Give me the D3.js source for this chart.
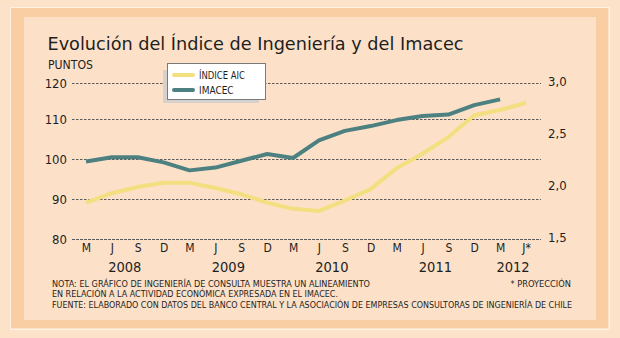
<!DOCTYPE html>
<html>
<head>
<meta charset="utf-8">
<script src="https://cdn.jsdelivr.net/npm/d3@7"></script>
<style>
  html, body { margin: 0; padding: 0; background: #fde2ca; }
  svg { display: block; }
  text { font-family: "DejaVu Sans Condensed", "DejaVu Sans", sans-serif; font-stretch: condensed; fill: #1e1e1e; }
</style>
</head>
<body>
<svg id="chart" width="620" height="338"></svg>
<script>
// Quarterly periods (March, June, September, December) 2008 – June 2012
const quarters = ["2008-03","2008-06","2008-09","2008-12",
                  "2009-03","2009-06","2009-09","2009-12",
                  "2010-03","2010-06","2010-09","2010-12",
                  "2011-03","2011-06","2011-09","2011-12",
                  "2012-03","2012-06"];
const quarterLabels = ["M","J","S","D","M","J","S","D","M","J","S","D","M","J","S","D","M","J*"];
const years = ["2008","2009","2010","2011","2012"];

// IMACEC, points (left axis)
const imacec = [99.4, 100.5, 100.5, 99.2, 97.2, 97.9, 99.6, 101.3, 100.3,
                104.7, 107.1, 108.3, 109.8, 110.9, 111.3, 113.9, 115.5, null];
// Índice AIC (right axis)
const aic = [1.85, 1.94, 2.00, 2.04, 2.04, 1.99, 1.93, 1.85, 1.79,
             1.77, 1.87, 1.98, 2.18, 2.32, 2.48, 2.69, 2.74, 2.81];

const leftTicks = [80, 90, 100, 110, 120];
const rightTicks = [1.5, 2.0, 2.5, 3.0];

const title = "Evolución del Índice de Ingeniería y del Imacec";
const unitLabel = "PUNTOS";
const seriesNames = ["ÍNDICE AIC", "IMACEC"];
const noteLines = [
  "NOTA: EL GRÁFICO DE INGENIERÍA DE CONSULTA MUESTRA UN ALINEAMIENTO",
  "EN RELACIÓN A LA ACTIVIDAD ECONÓMICA EXPRESADA EN EL IMACEC.",
  "FUENTE: ELABORADO CON DATOS DEL BANCO CENTRAL Y LA ASOCIACIÓN DE EMPRESAS CONSULTORAS DE INGENIERÍA DE CHILE"
];
const projectionNote = "* PROYECCIÓN";

const colors = { aic: "#f3de80", imacec: "#4d8181", grid: "#5a5a5a" };

const svg = d3.select("#chart");

// Frame: light outline, wide peach band, inner panel
svg.append("rect").attr("x", 0).attr("y", 0).attr("width", 620).attr("height", 338).attr("fill", "#fde2ca");
svg.append("rect").attr("x", 10.5).attr("y", 7.5).attr("width", 599).attr("height", 322)
  .attr("fill", "none").attr("stroke", "#fff1e4").attr("stroke-width", 1);
svg.append("rect").attr("x", 11).attr("y", 8).attr("width", 597).attr("height", 320).attr("fill", "#f9cea3");
svg.append("rect").attr("x", 24).attr("y", 17).attr("width", 572).attr("height", 303).attr("fill", "#fce1c8");

// Scales
const x = d3.scalePoint().domain(quarters).range([86, 526]);
const yLeft = d3.scaleLinear().domain([80, 110, 120]).range([239, 119.3, 83]);
const yRight = d3.scaleLinear().domain([1.5, 3.0]).range([239, 83]);
const gridX0 = 72, gridX1 = 541;

// Title and unit
svg.append("text").attr("x", 47.5).attr("y", 49.5)
  .style("font-family", "'DejaVu Sans', sans-serif").style("font-stretch", "normal")
  .attr("font-size", 18.5).attr("textLength", 416).attr("lengthAdjust", "spacingAndGlyphs")
  .text(title);
svg.append("text").attr("x", 48).attr("y", 68.5).attr("font-size", 11.5)
  .attr("textLength", 45).attr("lengthAdjust", "spacingAndGlyphs").text(unitLabel);

// Horizontal gridlines with left labels
const gridG = svg.append("g");
gridG.selectAll("line").data(leftTicks).join("line")
  .attr("x1", gridX0).attr("x2", gridX1)
  .attr("y1", d => Math.round(yLeft(d)) + 0.5).attr("y2", d => Math.round(yLeft(d)) + 0.5)
  .attr("stroke", colors.grid).attr("stroke-width", 1)
  .attr("stroke-dasharray", d => d === 80 ? "3,1" : "2.5,1.5");

const leftAxis = d3.axisLeft(yLeft).tickValues(leftTicks).tickSize(0).tickPadding(0).tickFormat(d3.format("d"));
const la = svg.append("g").attr("transform", "translate(67,0)").call(leftAxis);
la.select(".domain").remove();
la.selectAll("text").attr("font-size", 13).attr("fill", "#1e1e1e")
  .style("font-family", "'DejaVu Sans Condensed', 'DejaVu Sans', sans-serif");

const rightAxis = d3.axisRight(yRight).tickValues(rightTicks).tickSize(0).tickPadding(0)
  .tickFormat(d => d3.format(".1f")(d).replace(".", ","));
const ra = svg.append("g").attr("transform", "translate(548,-1.5)").call(rightAxis);
ra.select(".domain").remove();
ra.selectAll("text").attr("font-size", 13).attr("fill", "#1e1e1e")
  .style("font-family", "'DejaVu Sans Condensed', 'DejaVu Sans', sans-serif");

// Quarter labels
const bottomAxis = d3.axisBottom(x).tickSize(0).tickPadding(0).tickFormat((d, i) => quarterLabels[i]);
const ba = svg.append("g").attr("transform", "translate(0,243)").call(bottomAxis);
ba.select(".domain").remove();
ba.selectAll("text").attr("font-size", 12).attr("fill", "#1e1e1e")
  .style("font-family", "'DejaVu Sans Condensed', 'DejaVu Sans', sans-serif");

// Year labels centred under each year's quarters
svg.append("g").selectAll("text").data(years).join("text")
  .attr("x", yr => d3.mean(quarters.filter(q => q.startsWith(yr)), q => x(q)))
  .attr("y", 272).attr("text-anchor", "middle").attr("font-size", 14.5)
  .text(d => d);

// Series lines
const lineLeft = d3.line().defined(d => d.v != null).x(d => x(d.q)).y(d => yLeft(d.v));
const lineRight = d3.line().defined(d => d.v != null).x(d => x(d.q)).y(d => yRight(d.v));

svg.append("path")
  .datum(quarters.map((q, i) => ({ q, v: aic[i] })))
  .attr("d", lineRight).attr("fill", "none").attr("stroke", colors.aic)
  .attr("stroke-width", 4).attr("stroke-linejoin", "round");

svg.append("path")
  .datum(quarters.map((q, i) => ({ q, v: imacec[i] })))
  .attr("d", lineLeft).attr("fill", "none").attr("stroke", colors.imacec)
  .attr("stroke-width", 4).attr("stroke-linejoin", "round");

// Legend
const lg = svg.append("g");
lg.append("rect").attr("x", 163).attr("y", 70).attr("width", 96).attr("height", 33).attr("fill", "#d6d1cc");
lg.append("rect").attr("x", 167.5).attr("y", 63.5).attr("width", 98).attr("height", 36)
  .attr("fill", "#ffffff").attr("stroke", "#7a7a7a").attr("stroke-width", 1);
const legendItems = [
  { name: seriesNames[0], color: colors.aic, y: 75 },
  { name: seriesNames[1], color: colors.imacec, y: 90 }
];
legendItems.forEach(it => {
  lg.append("line").attr("x1", 174).attr("x2", 193).attr("y1", it.y).attr("y2", it.y)
    .attr("stroke", it.color).attr("stroke-width", 4).attr("stroke-linecap", "round");
  lg.append("text").attr("x", 199).attr("y", it.y + 3.8).attr("font-size", 10).text(it.name);
});
lg.selectAll("text").filter((d, i) => i === 0).attr("textLength", 46).attr("lengthAdjust", "spacingAndGlyphs");

// Notes
const noteY = [287, 297, 308];
const noteW = [318, 286, 520];
noteLines.forEach((t, i) => {
  svg.append("text").attr("x", 52).attr("y", noteY[i]).attr("font-size", 9.2)
    .attr("textLength", noteW[i]).attr("lengthAdjust", "spacingAndGlyphs").text(t);
});
svg.append("text").attr("x", 571).attr("y", 287).attr("text-anchor", "end").attr("font-size", 9.2)
  .text(projectionNote);
</script>
</body>
</html>
